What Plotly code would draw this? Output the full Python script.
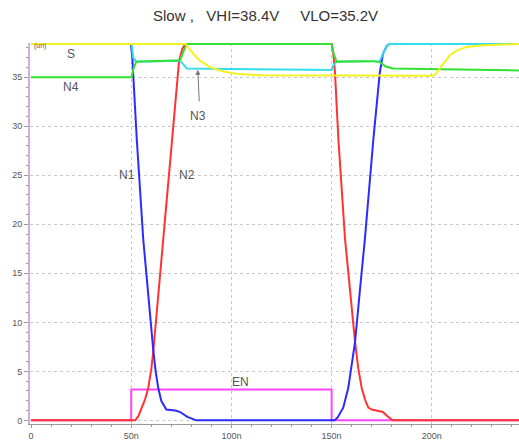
import plotly.graph_objects as go

# ---- data (time in ns, voltage in V) ----
en_t = [0, 50, 50, 150, 150, 243.5]
en_v = [0, 0, 3.15, 3.15, 0, 0]

n2_t = [0, 52, 53.5, 55, 57, 58.5, 60, 61, 66, 70, 73.9, 75.5, 77, 150, 150.8, 151.7, 153.4, 156.7, 159, 161.7,
        163.3, 165, 166.7, 168.3, 170, 173, 175.6, 178, 180.5, 243.5]
n2_v = [0, 0, 0.4, 1.2, 2.2, 3.3, 5.2, 7.0, 18.6, 27.8, 36.7, 37.9, 38.4, 38.4, 37.6, 35.4, 28.6, 18.5, 13.3, 8.0,
        5.3, 3.3, 2.1, 1.3, 1.1, 1.0, 0.85, 0.4, 0, 0]

n1_t = [0, 49.8, 50.5, 51, 52.8, 56, 60.2, 61, 62.2, 63.5, 65, 67.5, 72, 74.4, 78, 82.5, 150, 151.5, 153, 155.8,
        158.3, 160, 161.7, 164, 166.6, 170.8, 174, 175.6, 177.5, 179, 243.5]
n1_v = [38.4, 38.4, 37.2, 35.4, 28.6, 18.5, 8.4, 7.2, 5.0, 3.3, 2.0, 1.1, 1.0, 0.85, 0.35, 0, 0, 0, 0.3, 1.3,
        3.3, 5.5, 8.0, 13.0, 18.5, 28.6, 35.4, 37.4, 38.2, 38.4, 38.4]

n3_t = [0, 50.2, 51, 52.5, 74.4, 76, 77.8, 100, 150, 150.8, 152.5, 174, 175.6, 177.5, 179, 243.5]
n3_v = [38.4, 38.4, 37.0, 36.6, 36.7, 36.3, 35.9, 35.85, 35.75, 36.2, 36.6, 36.65, 37.4, 38.2, 38.4, 38.4]

n4_t = [0, 50.2, 51, 52.5, 60, 70, 74.4, 76, 77.7, 150, 150.8, 152.5, 160, 170, 174, 177, 180.6, 200, 230, 243.5]
n4_v = [35.0, 35.0, 35.8, 36.6, 36.65, 36.7, 36.75, 37.6, 38.4, 38.4, 37.5, 36.6, 36.65, 36.65, 36.55, 36.1, 35.9,
        35.85, 35.8, 35.7]

s_t = [0, 77, 79, 81, 84.3, 87, 89.3, 92, 95, 100, 105, 115, 150, 200.5, 202, 204, 206.5, 209, 212, 217.4, 225.6,
       234, 243.5]
s_v = [38.4, 38.4, 37.9, 37.4, 36.7, 36.3, 36.05, 35.85, 35.65, 35.45, 35.3, 35.2, 35.15, 35.15, 35.35, 35.9,
       36.6, 37.25, 37.7, 38.1, 38.26, 38.35, 38.4]

x_tickvals = [0, 50, 100, 150, 200]
x_ticktext = ["0", "50n", "100n", "150n", "200n"]
y_tickvals = [0, 5, 10, 15, 20, 25, 30, 35]

series = [
    ("EN", en_t, en_v, "#ff44ff"),
    ("N2", n2_t, n2_v, "#ff3333"),
    ("N1", n1_t, n1_v, "#2b2bff"),
    ("N3", n3_t, n3_v, "#33ddee"),
    ("N4", n4_t, n4_v, "#33e033"),
    ("S", s_t, s_v, "#f5f020"),
]

fig = go.Figure()
for name, t, v, c in series:
    fig.add_trace(go.Scatter(x=t, y=v, mode="lines", name=name,
                             line=dict(color=c, width=2), hoverinfo="skip"))

lab_font = dict(family="Liberation Sans, Arial, sans-serif", size=12, color="#555555")
labels = [("S", 19.8, 37.4), ("N4", 20.0, 34.05), ("N3", 83.5, 31.1),
          ("N1", 47.8, 25.0), ("N2", 77.7, 25.0), ("EN", 104.3, 3.9)]
for txt, x, y in labels:
    fig.add_annotation(x=x, y=y, xref="x", yref="y", text=txt, showarrow=False,
                       font=lab_font, xanchor="center", yanchor="middle")

# arrow for N3
fig.add_annotation(x=83.2, y=35.76, xref="x", yref="y", ax=84.0, ay=32.4, axref="x", ayref="y",
                   text="", showarrow=True, arrowhead=2, arrowsize=1, arrowwidth=1, arrowcolor="#777777")

fig.add_annotation(x=0.5, y=38.2, xref="x", yref="y", text="(un)", showarrow=False,
                   font=dict(family="Liberation Sans, Arial, sans-serif", size=7, color="#555555"),
                   xanchor="left", yanchor="middle")

tick_font = dict(family="Liberation Sans, Arial, sans-serif", size=9, color="#555555")

fig.update_layout(
    width=519, height=441,
    margin=dict(l=30, r=0, t=43, b=14),
    paper_bgcolor="white", plot_bgcolor="white",
    showlegend=False,
    title=dict(text="Slow ,\u00a0\u00a0 VHI=38.4V\u00a0\u00a0\u00a0\u00a0 VLO=35.2V",
               x=250 / 519, xref="paper", xanchor="center",
               y=1 - 16 / 441, yref="container", yanchor="middle",
               font=dict(family="Liberation Sans, Arial, sans-serif", size=15, color="#333333")),
    xaxis=dict(range=[-0.5, 243.5], tickmode="array", tickvals=x_tickvals, ticktext=x_ticktext,
               showgrid=True, gridcolor="#c8c8c8", griddash="dot", gridwidth=1,
               zeroline=False, showline=True, linecolor="#999999", linewidth=1,
               ticks="outside", ticklen=3, tickcolor="#999999", tickfont=tick_font,
               minor=dict(tickmode="array", tickvals=list(range(0, 241, 10)), ticks="outside",
                          ticklen=2, tickcolor="#999999", showgrid=False),
               fixedrange=True),
    yaxis=dict(range=[-0.37, 38.5], tickmode="array", tickvals=y_tickvals,
               showgrid=True, gridcolor="#c8c8c8", griddash="dot", gridwidth=1,
               zeroline=False, showline=True, linecolor="#cfb0d8", linewidth=2,
               ticks="outside", ticklen=4, tickcolor="#999999", tickfont=tick_font,
               minor=dict(tickmode="array", tickvals=list(range(0, 39, 1)), ticks="outside",
                          ticklen=2, tickcolor="#999999", showgrid=False),
               fixedrange=True),
)

fig.write_html("out.html")
